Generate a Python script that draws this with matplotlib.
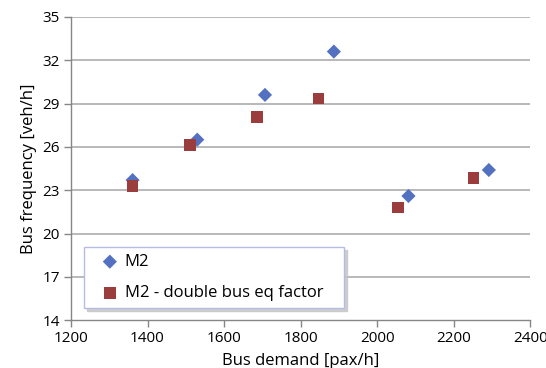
import matplotlib
matplotlib.use("Agg")
import matplotlib.pyplot as plt

plt.rcParams['font.family'] = ['Open Sans', 'DejaVu Sans']

# Bus demand [pax/h] and bus frequency [veh/h]
m2_demand = [1361, 1530, 1707, 1887, 2082, 2292]
m2_freq = [23.7, 26.5, 29.6, 32.6, 22.6, 24.4]

m2d_demand = [1361, 1512, 1686, 1847, 2055, 2252]
m2d_freq = [23.3, 26.15, 28.05, 29.35, 21.8, 23.85]

x_ticks = [1200, 1400, 1600, 1800, 2000, 2200, 2400]
y_ticks = [14, 17, 20, 23, 26, 29, 32, 35]

fig = plt.figure(figsize=(5.46, 3.68), dpi=100)
ax = fig.add_axes([0.130, 0.130, 0.841, 0.824])

grid_color = '#a6a6a6'
for y in y_ticks[1:]:
    ax.axhline(y, color=grid_color, lw=1.1, zorder=1)

ax.scatter(m2_demand, m2_freq, marker='D', s=52, color='#5470C0',
           edgecolors='none', zorder=3, label='M2')
ax.scatter(m2d_demand, m2d_freq, marker='s', s=72, color='#9B3D3D',
           edgecolors='none', zorder=3, label='M2 - double bus eq factor')

ax.set_xlim(1200, 2400)
ax.set_ylim(14, 35)
ax.set_xticks(x_ticks)
ax.set_yticks(y_ticks)

for side in ['top', 'right']:
    ax.spines[side].set_visible(False)
for side in ['left', 'bottom']:
    ax.spines[side].set_color('#868686')
    ax.spines[side].set_linewidth(1.0)

ax.tick_params(axis='both', direction='out', length=5, width=1.0,
               color='#868686', labelsize=11, labelcolor='#000000')
ax.tick_params(axis='x', pad=3)
ax.tick_params(axis='y', pad=3)

ax.set_xlabel('Bus demand [pax/h]', fontsize=12, labelpad=5)
ax.set_ylabel('Bus frequency [veh/h]', fontsize=12, labelpad=4)

leg = ax.legend(loc='lower left', bbox_to_anchor=(0.028, 0.04, 0.566, 0.2),
                mode='expand',
                fontsize=12, frameon=True, fancybox=False,
                shadow={'color': '#c4c4c4', 'alpha': 0.8},
                framealpha=1, borderpad=0.42, handlelength=2.28,
                handletextpad=-0.25, labelspacing=0.9, borderaxespad=0)
leg.get_frame().set_edgecolor('#b4bce6')
leg.get_frame().set_linewidth(1.0)

fig.savefig('out.png', dpi=100)
